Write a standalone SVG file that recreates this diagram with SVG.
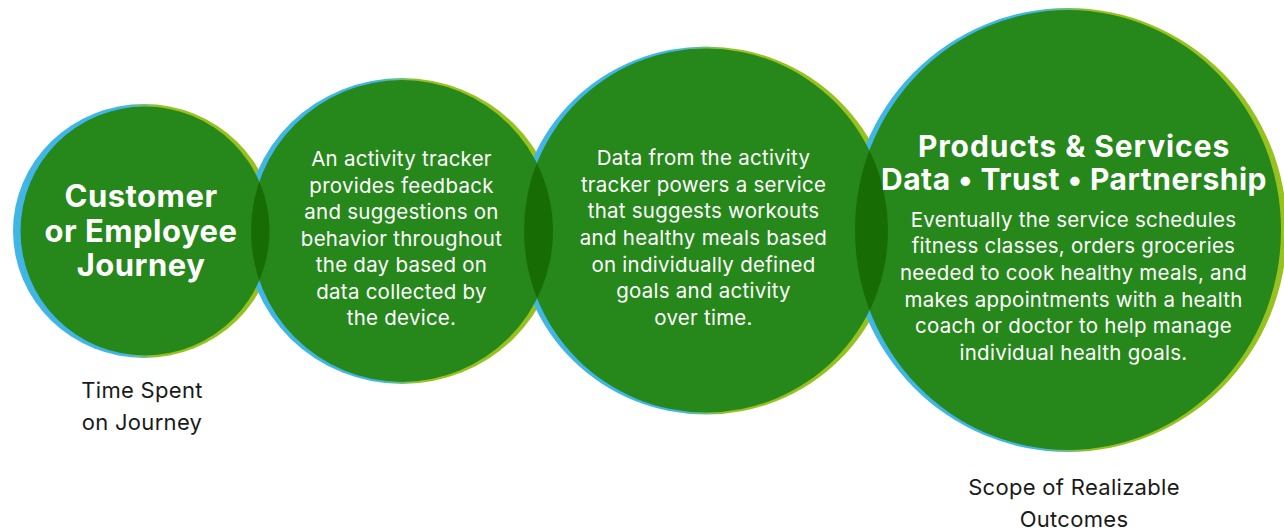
<svg xmlns="http://www.w3.org/2000/svg" width="1284" height="529" viewBox="0 0 1284 529">
<defs>
<linearGradient id="ring" x1="0" y1="0" x2="1" y2="0">
<stop offset="0.42" stop-color="#41b6e6"/>
<stop offset="0.56" stop-color="#97c11f"/>
</linearGradient>
<clipPath id="c1"><circle cx="145" cy="231" r="124.5"/></clipPath>
<clipPath id="c2"><circle cx="402" cy="231" r="151"/></clipPath>
<clipPath id="c3"><circle cx="706" cy="230.5" r="182"/></clipPath>
</defs>
<style>
.ring{fill:url(#ring)}
.disc{fill:#26871b}
.lens{fill:#176d04}
.head{font-family:Inter,"Liberation Sans",sans-serif;font-weight:700;fill:#ffffff;text-anchor:middle;letter-spacing:0.5px}
.body{font-family:Inter,"Liberation Sans",sans-serif;font-weight:400;fill:#ffffff;text-anchor:middle;font-size:20.5px;letter-spacing:0.25px}
.label{font-family:Inter,"Liberation Sans",sans-serif;font-weight:400;fill:#1a1a1a;text-anchor:middle;font-size:22px;letter-spacing:0.3px}
</style>
<g id="rings">
<ellipse class="ring" cx="144" cy="231" rx="131" ry="127"/>
<ellipse class="ring" cx="402" cy="231" rx="157" ry="153"/>
<ellipse class="ring" cx="706" cy="230.5" rx="188" ry="184"/>
<ellipse class="ring" cx="1068" cy="230" rx="219" ry="222"/>
</g>
<g id="node-journey">
<circle class="disc" cx="145" cy="231" r="124.5"/>
</g>
<g id="node-tracker">
<circle class="disc" cx="402" cy="231" r="151"/>
</g>
<g id="node-service">
<circle class="disc" cx="706" cy="230.5" r="182"/>
</g>
<g id="node-products">
<ellipse class="disc" cx="1068" cy="230" rx="213" ry="220"/>
</g>
<g id="overlaps">
<circle class="lens" cx="402" cy="231" r="151" clip-path="url(#c1)"/>
<circle class="lens" cx="706" cy="230.5" r="182" clip-path="url(#c2)"/>
<ellipse class="lens" cx="1068" cy="230" rx="213" ry="220" clip-path="url(#c3)"/>
</g>
<g id="text-journey" class="head" font-size="31">
<text x="141" y="207">Customer</text>
<text x="141" y="241.5">or Employee</text>
<text x="141" y="276">Journey</text>
</g>
<g id="text-tracker" class="body">
<text x="401.5" y="166">An activity tracker</text>
<text x="401.5" y="192.5">provides feedback</text>
<text x="401.5" y="219">and suggestions on</text>
<text x="401.5" y="245.5">behavior throughout</text>
<text x="401.5" y="272">the day based on</text>
<text x="401.5" y="298.5">data collected by</text>
<text x="401.5" y="325">the device.</text>
</g>
<g id="text-service" class="body">
<text x="703.5" y="165">Data from the activity</text>
<text x="703.5" y="191.7">tracker powers a service</text>
<text x="703.5" y="218.3">that suggests workouts</text>
<text x="703.5" y="245">and healthy meals based</text>
<text x="703.5" y="271.7">on individually defined</text>
<text x="703.5" y="298.3">goals and activity</text>
<text x="703.5" y="325">over time.</text>
</g>
<g id="text-products">
<text class="head" font-size="30" x="1074" y="157" style="letter-spacing:0.9px">Products &amp; Services</text>
<text class="head" font-size="30" x="1074" y="189.5">Data • Trust • Partnership</text>
<g class="body">
<text x="1073.5" y="226.7">Eventually the service schedules</text>
<text x="1073.5" y="253.3">fitness classes, orders groceries</text>
<text x="1073.5" y="280">needed to cook healthy meals, and</text>
<text x="1073.5" y="306.7">makes appointments with a health</text>
<text x="1073.5" y="333.3">coach or doctor to help manage</text>
<text x="1073.5" y="360">individual health goals.</text>
</g>
</g>
<g id="labels" class="label">
<text x="142" y="398">Time Spent</text>
<text x="142" y="429.5">on Journey</text>
<text x="1074" y="495">Scope of Realizable</text>
<text x="1074" y="526.5">Outcomes</text>
</g>
</svg>
